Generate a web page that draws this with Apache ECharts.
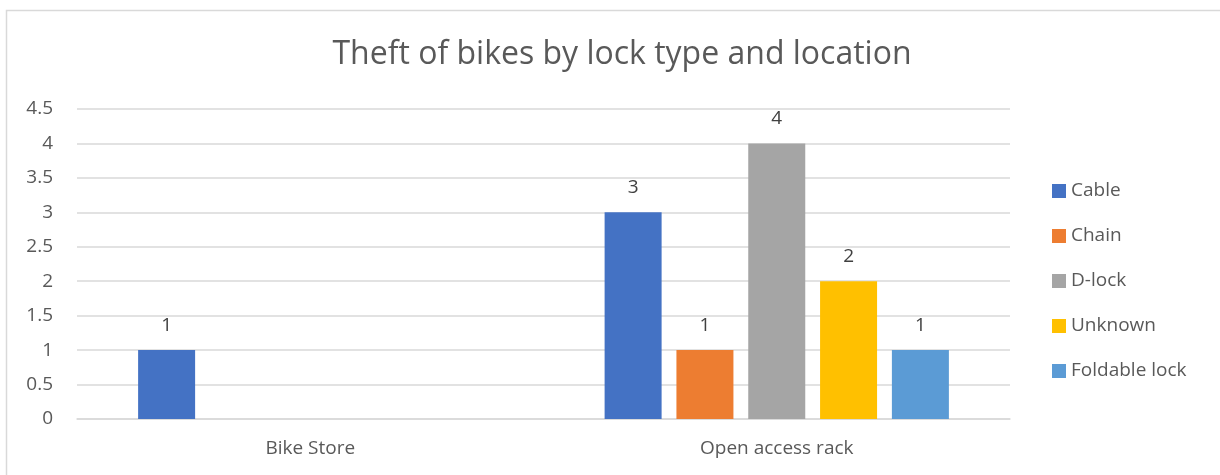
<!DOCTYPE html>
<html>
<head>
<meta charset="utf-8">
<script src="https://cdn.jsdelivr.net/npm/echarts@6/dist/echarts.min.js"></script>
<style>html,body{margin:0;padding:0;background:#fff}#c{width:1220px;height:475px}</style>
</head>
<body>
<div id="c"></div>
<script>
const titleText = 'Theft of bikes by lock type and location';
const categories = ['Bike Store', 'Open access rack'];
const seriesNames = ['Cable', 'Chain', 'D-lock', 'Unknown', 'Foldable lock'];
const cable = [1, 3];
const chain = [null, 1];
const dlock = [null, 4];
const unknown = [null, 2];
const foldable = [null, 1];
const colors = ['#4472C4', '#ED7D31', '#A5A5A5', '#FFC000', '#5B9BD5'];
const yTicks = {min: 0, max: 4.5, interval: 0.5};

const values = [cable, chain, dlock, unknown, foldable];
const font = 'Open Sans';
const fs = 19;
const chart = echarts.init(document.getElementById('c'), null, {renderer: 'canvas'});
chart.setOption({
  animation: false,
  color: colors,
  title: {
    text: titleText, left: 617, textAlign: 'center', top: 34,
    textStyle: {fontFamily: font, fontSize: 32, fontWeight: 'normal', color: '#595959'}
  },
  graphic: [{
    type: 'rect', shape: {x: 6.5, y: 10.5, width: 1300, height: 600},
    style: {fill: 'none', stroke: '#d9d9d9', lineWidth: 1.5}, silent: true
  }],
  legend: {
    orient: 'vertical', left: 1052, top: 180, padding: 0, itemWidth: 14, itemHeight: 14, itemGap: 23,
    icon: 'rect',
    textStyle: {fontFamily: font, fontSize: fs, color: '#595959', lineHeight: 22},
    data: seriesNames
  },
  grid: {left: 77, right: 210, top: 109, bottom: 56, containLabel: false},
  xAxis: {
    type: 'category', data: categories,
    axisLine: {lineStyle: {color: '#d9d9d9', width: 1.5}},
    axisTick: {show: false},
    axisLabel: {fontFamily: font, fontSize: fs, color: '#595959', margin: 20}
  },
  yAxis: {
    type: 'value', min: yTicks.min, max: yTicks.max, interval: yTicks.interval,
    axisLine: {show: false}, axisTick: {show: false},
    splitLine: {lineStyle: {color: '#d9d9d9', width: 1.5}},
    axisLabel: {fontFamily: font, fontSize: fs, color: '#595959', margin: 24}
  },
  series: seriesNames.map((n, i) => ({
    name: n, type: 'bar', data: values[i], barWidth: 57, barGap: '26%',
    label: {show: true, position: 'top', distance: 15, fontFamily: font, fontSize: fs, color: '#404040'}
  }))
});
</script>
</body>
</html>
